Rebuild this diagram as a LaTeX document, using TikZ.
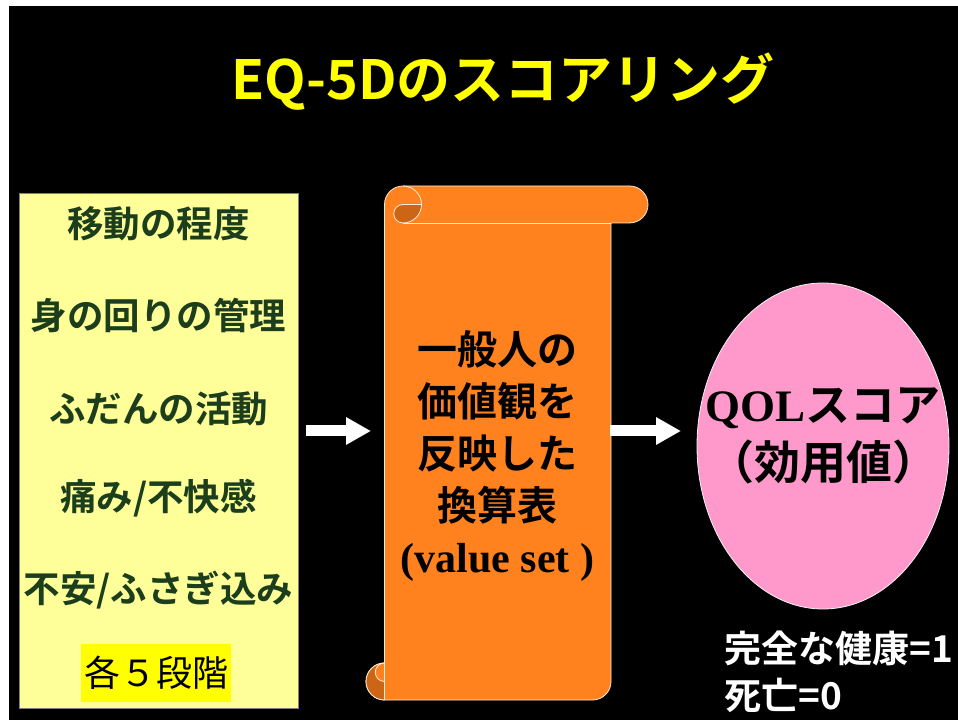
\documentclass[tikz,border=0pt]{standalone}
\usepackage{fontspec}
\usetikzlibrary{arrows.meta,shapes.geometric}
\newfontfamily\jp{Noto Sans CJK JP}[BoldFont={Noto Sans CJK JP Bold}]
\newfontfamily\tms{Liberation Serif}
\definecolor{boxyellow}{RGB}{255,255,153}
\definecolor{hiyellow}{RGB}{255,255,0}
\definecolor{dimgreen}{RGB}{28,62,28}
\definecolor{scrollorange}{RGB}{255,130,30}
\definecolor{curldark}{RGB}{204,102,22}
\definecolor{qolpink}{RGB}{255,153,204}
\definecolor{titleyellow}{RGB}{255,255,0}
\tikzset{
  dimtext/.style={font=\jp\bfseries\fontsize{36.5}{40}\selectfont, text=dimgreen, inner sep=0pt},
  blockarrow/.style={draw=white, line width=11pt, -{Triangle[length=25pt,width=26pt]}},
  scrollline/.style={draw=white!85!orange, line width=0.8pt},
}
\begin{document}
\begin{tikzpicture}[x=1pt,y=1pt]
\useasboundingbox (0,0) rectangle (958,720);
\fill[white] (0,0) rectangle (958,720);
\fill[black] (9,0) rectangle (958,714);

% title
\node[font=\jp\bfseries\fontsize{54}{58}\selectfont, text=titleyellow, inner sep=0pt] (title) at (503,638) {EQ-5Dのスコアリング};

% left box with dimensions
\node[draw=gray, line width=0.6pt, fill=boxyellow, minimum width=279pt, minimum height=515pt, inner sep=0pt] (dims) at (158.5,269.5) {};
\node[dimtext] (d1) at (158.5,496) {移動の程度};
\node[dimtext] (d2) at (158.5,404) {身の回りの管理};
\node[dimtext] (d3) at (158.5,311) {ふだんの活動};
\node[dimtext] (d4) at (158.5,222) {痛み/不快感};
\node[dimtext] (d5) at (158.5,130) {不安/ふさぎ込み};
\node[fill=hiyellow, minimum width=150pt, minimum height=57pt, inner sep=0pt, font=\jp\fontsize{36}{40}\selectfont, text=black] (steps) at (156,47) {各５段階};

% scroll
\path[fill=scrollorange, scrollline]
  (403,534) -- (629.5,534) arc[start angle=90, end angle=-90, radius=18.5]
  -- (611,497) -- (611,38.5) arc[start angle=0, end angle=-90, radius=18.5]
  -- (384.5,20) arc[start angle=270, end angle=90, radius=18.5]
  -- (384.5,515.5) arc[start angle=180, end angle=90, radius=18.5] -- cycle;
% top curl
\draw[scrollline] (403,534) arc[start angle=90, end angle=0, radius=18.5];
\draw[scrollline] (403,497) -- (611,497);
\path[fill=curldark, scrollline] (403,515.5) -- (421.5,515.5)
  arc[start angle=0, end angle=-90, radius=18.5]
  arc[start angle=270, end angle=90, radius=9.25] -- cycle;
% bottom curl
\path[fill=curldark, scrollline] (384.5,57) arc[start angle=90, end angle=270, radius=18.5] -- cycle;
\path[fill=scrollorange, scrollline] (384.5,57) arc[start angle=90, end angle=270, radius=9.25] -- cycle;

\node[font=\jp\bfseries\fontsize{40}{52}\selectfont, align=center, inner sep=0pt] (vs) at (497.5,264)
  {一般人の\\価値観を\\反映した\\換算表\\{\tms\bfseries\fontsize{42}{52}\selectfont (value set )}};

% QOL ellipse
\node[ellipse, draw=white!90!gray, line width=0.8pt, fill=qolpink, minimum width=252pt, minimum height=326pt, inner sep=0pt] (qol) at (823,274) {};
\node[inner sep=0pt, font=\fontsize{45}{50}\selectfont] (qolt) at (823,312) {{\tms\bfseries QOL}{\jp\bfseries スコア}};
\node[inner sep=0pt, font=\jp\bfseries\fontsize{46}{50}\selectfont] (util) at (823,258) {（効用値）};

% arrows
\coordinate (a1s) at (306,289);
\coordinate (a1e) at (371,289);
\coordinate (a2s) at (610,289);
\coordinate (a2e) at (681,289);
\draw[blockarrow] (a1s) -- (a1e);
\draw[blockarrow] (a2s) -- (a2e);

% notes
\node[anchor=west, inner sep=0pt, text=white, font=\jp\bfseries\fontsize{37}{40}\selectfont] (n1) at (724,72) {完全な健康=1};
\node[anchor=west, inner sep=0pt, text=white, font=\jp\bfseries\fontsize{37}{40}\selectfont] (n2) at (724,25) {死亡=0};
\end{tikzpicture}
\end{document}
